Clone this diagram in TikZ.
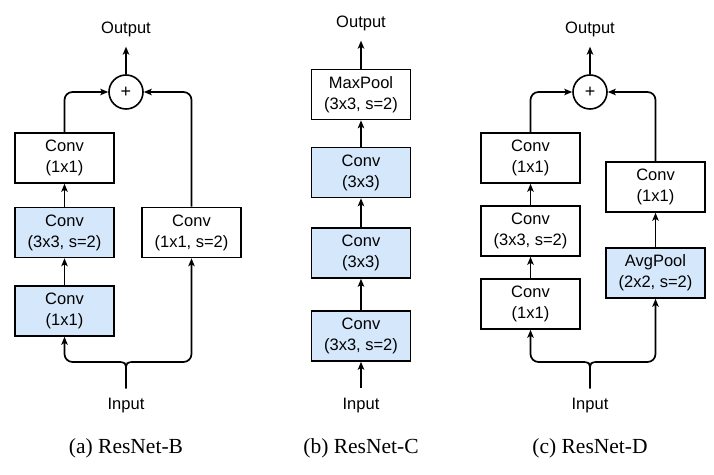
\documentclass[tikz,border=0pt]{standalone}
\usepackage{fontspec}
\setmainfont{Liberation Serif}
\setsansfont{Liberation Sans}
\usepackage{xcolor}
\usetikzlibrary{arrows.meta}

\definecolor{convblue}{RGB}{213,231,251}

\begin{document}
\begin{tikzpicture}[x=1pt, y=1pt,
  block/.style={draw=black, line width=1.6pt, fill=white, minimum width=99pt,
    minimum height=50pt, inner sep=0pt, align=center,
    font=\sffamily\fontsize{16.5}{21}\selectfont},
  hlblock/.style={block, fill=convblue},
  sum/.style={circle, draw=black, line width=1.6pt, minimum size=34pt,
    inner sep=0pt, font=\sffamily\fontsize{18}{18}\selectfont},
  io/.style={inner sep=10pt, font=\sffamily\fontsize{16.5}{19}\selectfont},
  caption/.style={font=\fontsize{21.5}{24}\selectfont},
  flow/.style={line width=1.7pt, -{Stealth[length=8pt, width=6.5pt, inset=2pt]}}]
  \useasboundingbox (0,0) rectangle (714,474);

  % (a) ResNet-B
  \node[io] (outA) at (126, 445) {Output};
  \node[sum] (sumA) at (126, 382) {+};
  \node[block] (a1) at (64.5, 316) {Conv\\(1x1)};
  \node[hlblock] (a2) at (64.5, 241.5) {Conv\\(3x3, s=2)};
  \node[hlblock] (a3) at (64.5, 163) {Conv\\(1x1)};
  \node[block] (a4) at (191.5, 241.5) {Conv\\(1x1, s=2)};
  \node[io] (inA) at (126, 68) {Input};
  \coordinate (forkA) at (126, 112);
  \node[caption] (capA) at (126, 26) {(a) ResNet-B};

  \draw[flow] (sumA) -- (outA);
  \draw[flow, rounded corners=8pt] (a1.north) |- (sumA.west);
  \draw[flow, rounded corners=8pt] (a4.north) |- (sumA.east);
  \draw[flow] (a2) -- (a1);
  \draw[flow] (a3) -- (a2);
  \draw[flow] (inA.north) -- ([yshift=-10pt]forkA)
     .. controls (forkA) .. ([xshift=-10pt]forkA) [rounded corners=8pt] -| (a3.south);
  \draw[flow] (inA.north) -- ([yshift=-10pt]forkA)
     .. controls (forkA) .. ([xshift=10pt]forkA) [rounded corners=8pt] -| (a4.south);

  % (b) ResNet-C
  \node[io] (outB) at (361, 451) {Output};
  \node[block] (b1) at (361, 379.5) {MaxPool\\(3x3, s=2)};
  \node[hlblock] (b2) at (361, 301.5) {Conv\\(3x3)};
  \node[hlblock] (b3) at (361, 221) {Conv\\(3x3)};
  \node[hlblock] (b4) at (361, 138) {Conv\\(3x3, s=2)};
  \node[io] (inB) at (361, 68) {Input};
  \node[caption] (capB) at (361, 26) {(b) ResNet-C};

  \draw[flow] (b1) -- (outB);
  \draw[flow] (b2) -- (b1);
  \draw[flow] (b3) -- (b2);
  \draw[flow] (b4) -- (b3);
  \draw[flow] (inB) -- (b4);

  % (c) ResNet-D
  \node[io] (outC) at (590, 445) {Output};
  \node[sum] (sumC) at (590, 382) {+};
  \node[block] (c1) at (530.5, 316) {Conv\\(1x1)};
  \node[block] (c2) at (530.5, 243) {Conv\\(3x3, s=2)};
  \node[block] (c3) at (530.5, 170) {Conv\\(1x1)};
  \node[block] (c4) at (655.5, 287) {Conv\\(1x1)};
  \node[hlblock] (c5) at (655.5, 201) {AvgPool\\(2x2, s=2)};
  \node[io] (inC) at (590, 68) {Input};
  \coordinate (forkC) at (590, 112);
  \node[caption] (capC) at (590, 26) {(c) ResNet-D};

  \draw[flow] (sumC) -- (outC);
  \draw[flow, rounded corners=8pt] (c1.north) |- (sumC.west);
  \draw[flow, rounded corners=8pt] (c4.north) |- (sumC.east);
  \draw[flow] (c2) -- (c1);
  \draw[flow] (c3) -- (c2);
  \draw[flow] (c5) -- (c4);
  \draw[flow] (inC.north) -- ([yshift=-10pt]forkC)
     .. controls (forkC) .. ([xshift=-10pt]forkC) [rounded corners=8pt] -| (c3.south);
  \draw[flow] (inC.north) -- ([yshift=-10pt]forkC)
     .. controls (forkC) .. ([xshift=10pt]forkC) [rounded corners=8pt] -| (c5.south);
\end{tikzpicture}
\end{document}
